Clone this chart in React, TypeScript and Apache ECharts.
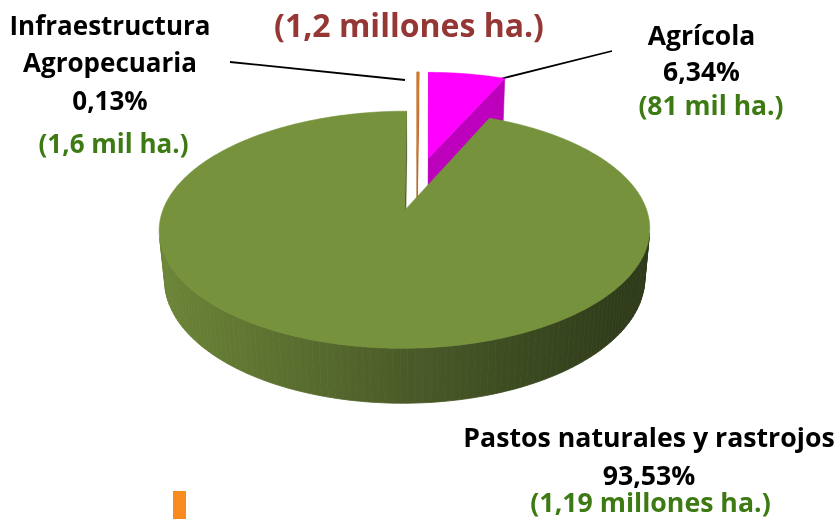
import React, { useEffect, useRef } from 'react';
import * as echarts from 'echarts';

// ---- data ----
const categories = ['Infraestructura Agropecuaria', 'Agrícola', 'Pastos naturales y rastrojos'];
const nameLines = [['Infraestructura', 'Agropecuaria'], ['Agrícola'], ['Pastos naturales y rastrojos']];
const percents = [0.13, 6.34, 93.53];
const areaLabels = ['(1,6 mil ha.)', '(81 mil ha.)', '(1,19 millones ha.)'];
const totalLabel = '(1,2 millones ha.)';

// ---- styles ----
const topColors = ['#D07A30', '#FF00FF', '#76923C'];
const faceColors = ['#B8682A', '#BC00BC', '#3E4D1F'];
const strokeWidths = [0.9, 0.6, 0.6];

// ---- 3D projection (perspective) ----
const CX = 417, CY = 183, FX = 1295, FY = 1273, DIST = 5.57;
const SA = 0.466, CA = Math.sqrt(1 - SA * SA);
const THICK = 0.24, EXPLODE = 0.25;
const CAM = { x: 0, z: -DIST * CA };

function proj(X: number, Y: number, Z: number): number[] {
  const zc = DIST - Y * SA + Z * CA;
  return [CX + (FX * X) / zc, CY - (FY * (Y * CA + Z * SA)) / zc];
}

const fmtPct = (v: number) => v.toFixed(2).replace('.', ',') + '%';

// label layout: line centers (x, first line y, line step), green line (x, y), font size
const labelLayout = [
  { x: 110, y: 24.7, step: 37.7, gx: 113.5, gy: 142.5, size: 26 },
  { x: 701.5, y: 35, step: 36.2, gx: 711, gy: 104.5, size: 26.5 },
  { x: 649, y: 436, step: 38, gx: 650.5, gy: 501.5, size: 26.7 },
];

export default function App() {
  const ref = useRef<HTMLDivElement>(null);
  useEffect(() => {
    if (!ref.current) return;
    const chart = echarts.init(ref.current, null, { renderer: 'svg' });
    const total = percents.reduce((a, b) => a + b, 0);
    const sideGrad = new echarts.graphic.LinearGradient(160, 0, 650, 0, [
      { offset: 0, color: '#6C8537' },
      { offset: 0.5, color: '#4B5B28' },
      { offset: 1, color: '#2C3818' },
    ], true);

    const renderItem = (params: any, api: any) => {
      const idx = params.dataIndex;
      let before = 0;
      for (let i = 0; i < idx; i++) before += percents[i];
      const v = api.value(0);
      const start = (before / total) * Math.PI * 2;
      const end = ((before + v) / total) * Math.PI * 2;
      const mid = (start + end) / 2;
      const ox = EXPLODE * Math.sin(mid);
      const oz = EXPLODE * Math.cos(mid);
      const rim = (t: number, Y: number) => proj(ox + Math.sin(t), Y, oz + Math.cos(t));
      const lw = strokeWidths[idx];
      const sideFill = idx === 2 ? sideGrad : faceColors[idx];
      const children: any[] = [];
      const step = (1.5 * Math.PI) / 180;
      const n = Math.max(1, Math.ceil((end - start) / step));
      // curved outer side
      for (let i = 0; i < n; i++) {
        const t0 = start + ((end - start) * i) / n;
        const t1 = start + ((end - start) * (i + 1)) / n;
        const tm = (t0 + t1) / 2;
        const nx = Math.sin(tm), nz = Math.cos(tm);
        const px = ox + nx, pz = oz + nz;
        const dot = nx * (CAM.x - px) + nz * (CAM.z - pz);
        if (dot <= 0) continue;
        children.push({
          type: 'polygon',
          shape: { points: [rim(t0, 0), rim(t1, 0), rim(t1, -THICK), rim(t0, -THICK)] },
          style: { fill: sideFill, stroke: sideFill, lineWidth: 0.8 },
        });
      }
      // radial faces
      const faces = [
        { a: start, nx: -Math.cos(start), nz: Math.sin(start) },
        { a: end, nx: Math.cos(end), nz: -Math.sin(end) },
      ];
      faces.forEach((f) => {
        const px = ox + 0.5 * Math.sin(f.a), pz = oz + 0.5 * Math.cos(f.a);
        const dot = f.nx * (CAM.x - px) + f.nz * (CAM.z - pz);
        if (dot <= 0) return;
        children.push({
          type: 'polygon',
          shape: { points: [proj(ox, 0, oz), rim(f.a, 0), rim(f.a, -THICK), proj(ox, -THICK, oz)] },
          style: { fill: faceColors[idx], stroke: faceColors[idx], lineWidth: lw },
        });
      });
      // top face
      const pts: number[][] = [proj(ox, 0, oz)];
      const m = Math.max(2, Math.ceil((end - start) / ((1 * Math.PI) / 180)));
      for (let i = 0; i <= m; i++) pts.push(rim(start + ((end - start) * i) / m, 0));
      children.push({
        type: 'polygon',
        shape: { points: pts },
        style: { fill: topColors[idx], stroke: topColors[idx], lineWidth: lw },
      });
      return { type: 'group', children };
    };

    const font = '"Open Sans", "Noto Sans", sans-serif';
    const txt = (x: number, y: number, t: string, size: number, fill: string) => ({
      type: 'text', x, y,
      style: { text: t, fill, font: `bold ${size}px ${font}`, align: 'center', verticalAlign: 'middle' },
    });
    const labels: any[] = [];
    percents.forEach((p, i) => {
      const L = labelLayout[i];
      const lines = [...nameLines[i], fmtPct(p)];
      lines.forEach((t, j) => labels.push(txt(L.x, L.y + j * L.step, t, L.size, '#000')));
      labels.push(txt(L.gx, L.gy, areaLabels[i], L.size, '#3D7A14'));
    });

    chart.setOption({
      animation: false,
      series: [{
        type: 'custom',
        coordinateSystem: 'none',
        silent: true,
        renderItem,
        data: percents.map((v, i) => ({ value: [v], name: categories[i] })),
      }],
      graphic: [
        txt(409, 24, totalLabel, 32, '#953735'),
        ...labels,
        { type: 'line', shape: { x1: 230, y1: 62, x2: 405, y2: 80 }, style: { stroke: '#000', lineWidth: 1.8 } },
        { type: 'line', shape: { x1: 500, y1: 79, x2: 612, y2: 51 }, style: { stroke: '#000', lineWidth: 1.8 } },
        { type: 'rect', shape: { x: 173, y: 491, width: 13, height: 30 }, style: { fill: '#F98B1E' } },
      ],
    });
    return () => chart.dispose();
  }, []);
  return <div ref={ref} style={{ position: 'fixed', left: 0, top: 0, width: 836, height: 519 }} />;
}
